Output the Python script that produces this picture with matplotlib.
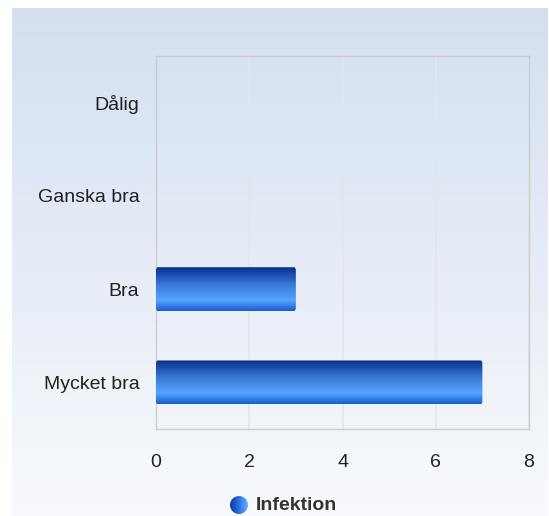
import numpy as np
import matplotlib
matplotlib.use("Agg")
import matplotlib.pyplot as plt
from matplotlib.colors import LinearSegmentedColormap
from matplotlib.patches import FancyBboxPatch, Circle

plt.rcParams["font.family"] = ["Liberation Sans", "DejaVu Sans"]

# data
categories = ["Mycket bra", "Bra", "Ganska bra", "Dålig"]
values = [7, 3, 0, 0]
series_name = "Infektion"
x_ticks = [0, 2, 4, 6, 8]

W, H = 549, 516
fig = plt.figure(figsize=(W / 100, H / 100), dpi=100)
fig.patch.set_facecolor("white")

# background panel with vertical gradient
bg = fig.add_axes([12 / W, 0, (W - 13) / W, (H - 8) / H])
bg_cmap = LinearSegmentedColormap.from_list("bg", ["#f8fafd", "#d3dff0"])
bg.imshow(np.linspace(0, 1, 256).reshape(-1, 1), cmap=bg_cmap, aspect="auto",
          origin="lower", extent=[0, 1, 0, 1])
bg.set_axis_off()

# plot area
left, right, top, bottom = 156, 529, 56, 429
ax = fig.add_axes([left / W, 1 - bottom / H, (right - left) / W, (bottom - top) / H])
ax.patch.set_alpha(0)
ax.set_xlim(0, 8)
ax.set_ylim(-0.5, len(categories) - 0.5)
ax.set_xticks(x_ticks)
ax.set_xticklabels([str(t) for t in x_ticks], fontsize=14, color="#222222")
ax.set_yticks(range(len(categories)))
ax.set_yticklabels(categories, fontsize=14, color="#222222")
ax.tick_params(axis="x", length=0, pad=18)
ax.tick_params(axis="y", length=0, pad=12)
ax.grid(axis="x", color="#e2e6ec", linewidth=1.2)
ax.set_axisbelow(True)
for s in ax.spines.values():
    s.set_color("#cccccc")
    s.set_linewidth(1)

bar_cmap = LinearSegmentedColormap.from_list(
    "bar", [(0, "#1a5ccc"), (0.25, "#55a5ff"), (0.6, "#3a78d8"), (1, "#062f8e")])
grad = np.linspace(0, 1, 256).reshape(-1, 1)
bh = 0.47
for i, v in enumerate(values):
    if v <= 0:
        continue
    patch = FancyBboxPatch((0, i - bh / 2), v, bh,
                           boxstyle="round,pad=0,rounding_size=0.04",
                           facecolor="none", edgecolor="none", zorder=3)
    ax.add_patch(patch)
    im = ax.imshow(grad, cmap=bar_cmap, aspect="auto", origin="lower",
                   extent=[0, v, i - bh / 2, i + bh / 2], zorder=3)
    im.set_clip_path(patch)
ax.set_xlim(0, 8)
ax.set_ylim(-0.5, len(categories) - 0.5)

# legend marker with horizontal gradient
lx, ly, r = 239, 505, 9
lax = fig.add_axes([(lx - r) / W, 1 - (ly + r) / H, 2 * r / W, 2 * r / H])
lax.set_axis_off()
leg_cmap = LinearSegmentedColormap.from_list("leg", ["#0a3a9a", "#2a72e8", "#6ab0ff"])
lim = lax.imshow(np.linspace(0, 1, 64).reshape(1, -1), cmap=leg_cmap, aspect="auto",
                 extent=[0, 1, 0, 1])
lax.set_xlim(0, 1)
lax.set_ylim(0, 1)
circ = Circle((0.5, 0.5), 0.5, transform=lax.transData, facecolor="none", edgecolor="none")
lax.add_patch(circ)
lim.set_clip_path(circ)
fig.text(256 / W, 1 - ly / H, series_name, fontsize=14, fontweight="bold",
         color="#333333", va="center", ha="left")

fig.savefig("out.png", dpi=100)
